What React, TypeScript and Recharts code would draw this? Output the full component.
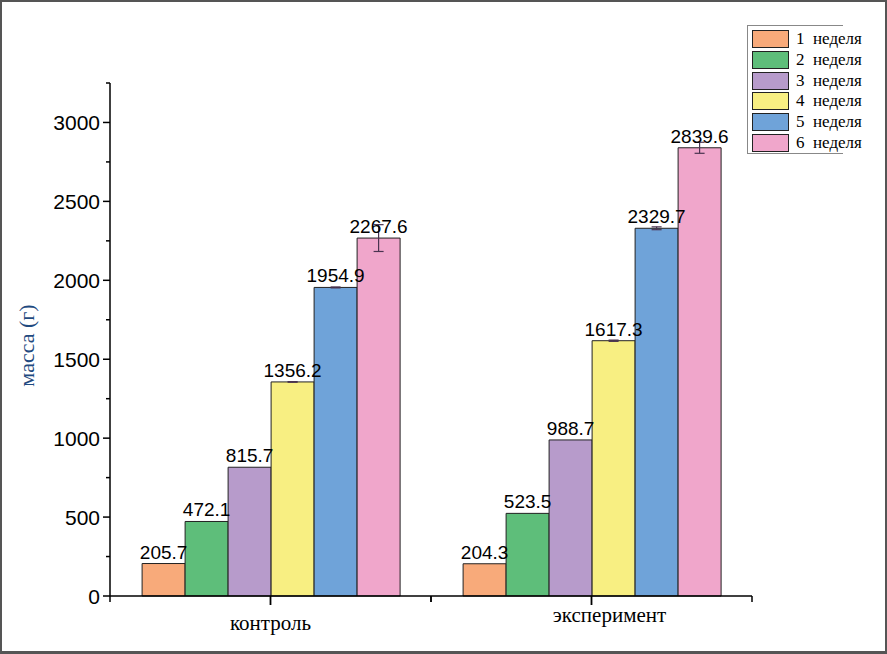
import { Bar, BarChart, ErrorBar, LabelList, XAxis, YAxis } from "recharts";

const categories = ["контроль", "эксперимент"];
const weekNames = ["1  неделя", "2  неделя", "3  неделя", "4  неделя", "5  неделя", "6  неделя"];
const week1 = [205.7, 204.3];
const week2 = [472.1, 523.5];
const week3 = [815.7, 988.7];
const week4 = [1356.2, 1617.3];
const week5 = [1954.9, 2329.7];
const week6 = [2267.6, 2839.6];
const err1 = [0, 0];
const err2 = [0, 0];
const err3 = [0, 0];
const err4 = [2, 4];
const err5 = [3, 9];
const err6 = [85, 35];
const yTicks = [0, 250, 500, 750, 1000, 1250, 1500, 1750, 2000, 2250, 2500, 2750, 3000, 3250];

const colors = ["#F8AA7A", "#5EBE7A", "#B79BCB", "#F8EF82", "#6FA3D9", "#F0A6CB"];
const weeks = [week1, week2, week3, week4, week5, week6];
const errs = [err1, err2, err3, err4, err5, err6];

const data = categories.map((c, i) => {
  const row: Record<string, string | number> = { name: c };
  weeks.forEach((w, k) => {
    row["w" + (k + 1)] = w[i];
    row["e" + (k + 1)] = errs[k][i];
  });
  return row;
});

const W = 887;
const H = 654;
const margin = { top: 83, right: 135, left: 20, bottom: 0 };
const plotWidth = W - margin.left - 90 - margin.right;
const band = plotWidth / categories.length;
const serif = "'Times New Roman', 'Liberation Serif', serif";
const sans = "Arial, 'Liberation Sans', sans-serif";
const xTickLen = 9;

function YTick(props: any) {
  const { x, y, payload } = props;
  const major = payload.value % 500 === 0;
  return (
    <g>
      <line x1={x} x2={x - (major ? 7 : 4)} y1={y} y2={y} stroke="#000" strokeWidth={1.5} />
      {major && (
        <text x={x - 10} y={y} textAnchor="end" dominantBaseline="central" fontSize={21} fontFamily={sans} fill="#000">
          {payload.value}
        </text>
      )}
    </g>
  );
}

function XTick(props: any) {
  const { x, y, payload, index } = props;
  const y0 = y - xTickLen;
  const shift = index === 1 ? 18 : 0;
  const lift = index === 1 ? -8 : 0;
  return (
    <g>
      <line x1={x - band / 2} x2={x - band / 2} y1={y0} y2={y0 + 6} stroke="#000" strokeWidth={1.5} />
      <line x1={x + band / 2} x2={x + band / 2} y1={y0} y2={y0 + 6} stroke="#000" strokeWidth={1.5} />
      <text x={x + shift} y={y0 + 34 + lift} textAnchor="middle" fontSize={21} fontFamily={serif} fill="#000">
        {payload.value}
      </text>
    </g>
  );
}

function YLabel(props: any) {
  const { viewBox } = props;
  const cx = viewBox.x + 6;
  const cy = viewBox.y + viewBox.height / 2 + 6;
  return (
    <text x={cx} y={cy} transform={`rotate(-90 ${cx} ${cy})`} textAnchor="middle" dominantBaseline="central" fontSize={22} fontFamily={serif} fill="#1F4A80">
      масса (г)
    </text>
  );
}

export default function App() {
  return (
    <div style={{ position: "fixed", left: 0, top: 0, width: W, height: H, background: "#fff" }}>
      <BarChart width={W} height={H} data={data} margin={margin} barGap={0} barCategoryGap="10%">
        <XAxis
          dataKey="name"
          height={58}
          tickSize={xTickLen}
          tickMargin={0}
          tick={<XTick />}
          axisLine={{ stroke: "#000", strokeWidth: 1.5 }}
          tickLine={{ stroke: "#000", strokeWidth: 1.8 }}
          interval={0}
        />
        <YAxis
          width={90}
          domain={[0, 3250]}
          ticks={yTicks}
          interval={0}
          tickSize={0}
          tickMargin={0}
          tick={<YTick />}
          tickLine={false}
          axisLine={{ stroke: "#000", strokeWidth: 1.5 }}
          label={<YLabel />}
        />
        {weeks.map((_, k) => (
          <Bar key={k} dataKey={"w" + (k + 1)} fill={colors[k]} stroke="#222" strokeWidth={1} isAnimationActive={false}>
            <ErrorBar dataKey={"e" + (k + 1)} width={5} stroke="#4A3350" strokeWidth={1.2} />
            <LabelList
              dataKey={"w" + (k + 1)}
              position="top"
              offset={5}
              formatter={(v: any) => Number(v).toFixed(1)}
              style={{ fontSize: 19, fontFamily: sans, fill: "#000" }}
            />
          </Bar>
        ))}
      </BarChart>
      <div
        style={{
          position: "absolute",
          left: 747,
          top: 25,
          width: 95,
          height: 127,
          borderLeft: "1.5px solid #888",
          borderTop: "1.5px solid #888",
          borderBottom: "1.5px solid #888",
        }}
      >
        {weekNames.map((n, k) => (
          <div key={k} style={{ position: "absolute", left: 4, top: 4 + k * 20.8, display: "flex", alignItems: "center" }}>
            <div style={{ width: 35, height: 16, background: colors[k], border: "1px solid #222" }} />
            <span style={{ marginLeft: 7, fontSize: 17, lineHeight: "16px", fontFamily: serif, color: "#000", whiteSpace: "pre" }}>
              {n}
            </span>
          </div>
        ))}
      </div>
      <div style={{ position: "absolute", left: 0, top: 0, width: W, height: H, boxSizing: "border-box", border: "2px solid #555", borderBottomWidth: 3, pointerEvents: "none" }} />
    </div>
  );
}
